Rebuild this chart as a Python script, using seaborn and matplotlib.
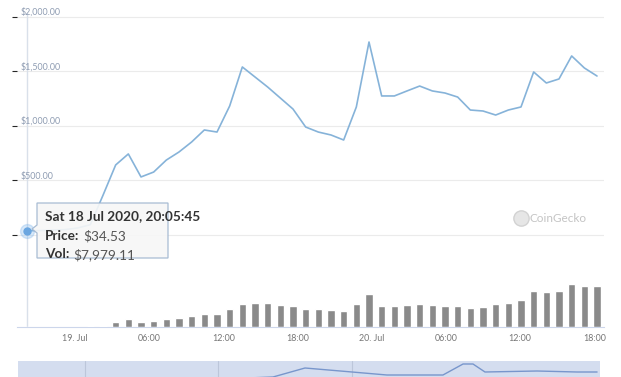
import matplotlib
matplotlib.use("Agg")
import matplotlib.pyplot as plt
from matplotlib.lines import Line2D
from matplotlib.patches import Polygon
from matplotlib.transforms import ScaledTranslation, blended_transform_factory
import numpy as np
import pandas as pd
import seaborn as sns

# ---------------- data ----------------
start_time = "2020-07-18 20:05:45"
step = "3690s"
price = [34.53, 36, 40, 45, 60, 90, 360, 638, 739, 528, 573, 683, 757, 849, 959, 940,
         1179, 1537, 1445, 1353, 1252, 1151, 986, 940, 913, 867, 1170, 1766, 1271, 1271,
         1317, 1362, 1317, 1298, 1261, 1142, 1133, 1096, 1142, 1170, 1491, 1390, 1427,
         1638, 1528, 1454]
volume_musd = [0.00797911, 0.01, 0.012, 0.015, 0.02, 0.06, 0.09, 0.53, 0.77, 0.53, 0.60,
               0.80, 0.93, 1.10, 1.33, 1.33, 1.77, 2.33, 2.43, 2.43, 2.23, 2.13, 1.83,
               1.77, 1.73, 1.60, 2.27, 3.27, 2.13, 2.13, 2.20, 2.27, 2.20, 2.13, 2.13,
               1.90, 1.97, 2.27, 2.43, 2.67, 3.60, 3.47, 3.60, 4.33, 4.13, 4.07]
x_tick_hours = [0, 6, 12, 18, 24, 30, 36, 42]
x_tick_labels = ["19. Jul", "06:00", "12:00", "18:00", "20. Jul", "06:00", "12:00", "18:00"]
y_ticks = [0, 500, 1000, 1500, 2000]
y_tick_labels = ["$500.00", "$1,000.00", "$1,500.00", "$2,000.00"]
nav_hours = [-4.71, 1.98, 8.5, 13.98, 16.1, 18.71, 22.55, 25.4, 29.97, 31.61, 32.42,
             33.4, 37.65, 40.91, 42.55]
nav_price = [100, 500, 850, 1150, 1200, 1650, 1450, 1300, 1300, 1850, 1850, 1450,
             1500, 1450, 1450]
nav_grid_hours = [0.75, 11.61, 22.55]
watermark = "CoinGecko"

# ---------------- style ----------------
sns.set_style("white")
plt.rcParams["font.family"] = ["Lato", "DejaVu Sans"]

W, H = 621, 377
fig = plt.figure(figsize=(W / 100, H / 100), dpi=100)


def fx(px):
    return px / W


def fy(py):
    return 1 - py / H


times = pd.date_range(start_time, periods=len(price), freq=step)
hours = np.asarray((times - pd.Timestamp("2020-07-19")) / pd.Timedelta(hours=1))
df = pd.DataFrame({"hours": hours, "price": price, "volume": volume_musd})

# layout in pixels
left_px, right_px, top_px, bottom_px = 17, 604, 13, 327
ax = fig.add_axes([fx(left_px), fy(bottom_px), (right_px - left_px) / W,
                   (bottom_px - top_px) / H])
y2000_px, y0_px = 16.5, 234.5
per_px = 2000 / (y0_px - y2000_px)
ax.set_ylim(-(bottom_px - y0_px) * per_px, 2000 + (y2000_px - top_px) * per_px)

first_px, last_px = 27, 597
h_per_px = (hours[-1] - hours[0]) / (last_px - first_px)
xlim = (hours[0] - (first_px - left_px) * h_per_px,
        hours[-1] + (right_px - last_px) * h_per_px)

# grid
ax.set_yticks(y_ticks)
ax.yaxis.grid(True, color="#ebebeb", lw=0.8)
ax.tick_params(axis="y", left=False, labelleft=False)
for s in ["top", "right", "left"]:
    ax.spines[s].set_visible(False)
ax.spines["bottom"].set_color("#ccd6eb")
ax.spines["bottom"].set_linewidth(0.8)

# crosshair at hovered point
ax.axvline(hours[0], color="#d9e0ea", lw=1, zorder=1)

# price line
sns.lineplot(data=df, x="hours", y="price", ax=ax, color="#86b3d9", lw=1.2, zorder=3)
ax.plot(hours[0], price[0], "o", ms=10, color="#7cb5ec", alpha=0.3, zorder=4)
ax.plot(hours[0], price[0], "o", ms=5, color="#6aa6e0", zorder=5)

# volume bars on twin axis
ax2 = ax.twinx()
sns.barplot(data=df, x="hours", y="volume", native_scale=True, width=0.6,
            color="#8a8a8a", saturation=1, errorbar=None, ax=ax2, zorder=2)
ax2.set_ylim(0, (bottom_px - top_px) / 10)
ax2.axis("off")

ax.set_xlim(*xlim)
ax.set_xticks(x_tick_hours)
ax.set_xticklabels(x_tick_labels)
ax.tick_params(axis="x", length=3, color="#ccd6eb", labelsize=6.4,
               labelcolor="#767676", pad=2)
ax.set_xlabel("")
ax.set_ylabel("")

# y labels inside plot, just above their grid lines
trans = blended_transform_factory(ax.transAxes, ax.transData) + \
    ScaledTranslation(0, 4 / 100, fig.dpi_scale_trans)
for v, lab in zip(y_ticks[1:], y_tick_labels):
    ax.text((20.5 - left_px) / (right_px - left_px), v, lab, transform=trans,
            ha="left", va="center", fontsize=6.4, color="#8e9cb2")

# watermark
fig.add_artist(Line2D([fx(521)], [fy(218)], marker="o", ms=11, color="#e6e6e6",
                      markeredgecolor="#d2d2d2", transform=fig.transFigure))
fig.text(fx(529), fy(218), watermark, ha="left", va="center", fontsize=8.5,
         color="#c4c4c4")

# navigator
nav = fig.add_axes([fx(18), fy(401), 582 / W, 40 / H])
nav.set_facecolor("#d4ddef")
sns.lineplot(x=nav_hours, y=nav_price, ax=nav, color="#7896cc", lw=1)
nav.set_xlim(*xlim)
nav.set_ylim(0, 2000)
nav.set_xticks(nav_grid_hours)
nav.xaxis.grid(True, color="#bcc6da", lw=0.8)
nav.tick_params(left=False, bottom=False, labelleft=False, labelbottom=False)
for s in nav.spines.values():
    s.set_visible(False)
nav.set_xlabel("")
nav.set_ylabel("")

# tooltip
box = [(37, 203), (168, 203), (168, 258), (37, 258), (37, 233), (32, 229), (37, 225)]
fig.add_artist(Polygon([(fx(a), fy(b)) for a, b in box], closed=True,
                       transform=fig.transFigure, facecolor="#f7f7f7", alpha=0.9,
                       edgecolor="#9fb5cf", lw=0.9, zorder=10))
header = times[0].strftime("%a %d %b %Y, %H:%M:%S")
fig.text(fx(45), fy(216.5), header, fontsize=9.8, fontweight="bold", color="#333333",
         va="center", ha="left", zorder=11)
renderer = fig.canvas.get_renderer()
rows = [("Price:", f"${price[0]:,.2f}", 236), ("Vol:", f"${volume_musd[0] * 1e6:,.2f}", 254.5)]
for key, val, py in rows:
    t = fig.text(fx(45), fy(py), key, fontsize=9.8, fontweight="bold", color="#333333",
                 va="center", ha="left", zorder=11)
    ext = t.get_window_extent(renderer)
    fig.text(ext.x1 / (W) + fx(3.5), fy(py), val, fontsize=9.8, color="#555555",
             va="center", ha="left", zorder=11)

fig.savefig("out.png", dpi=100)
